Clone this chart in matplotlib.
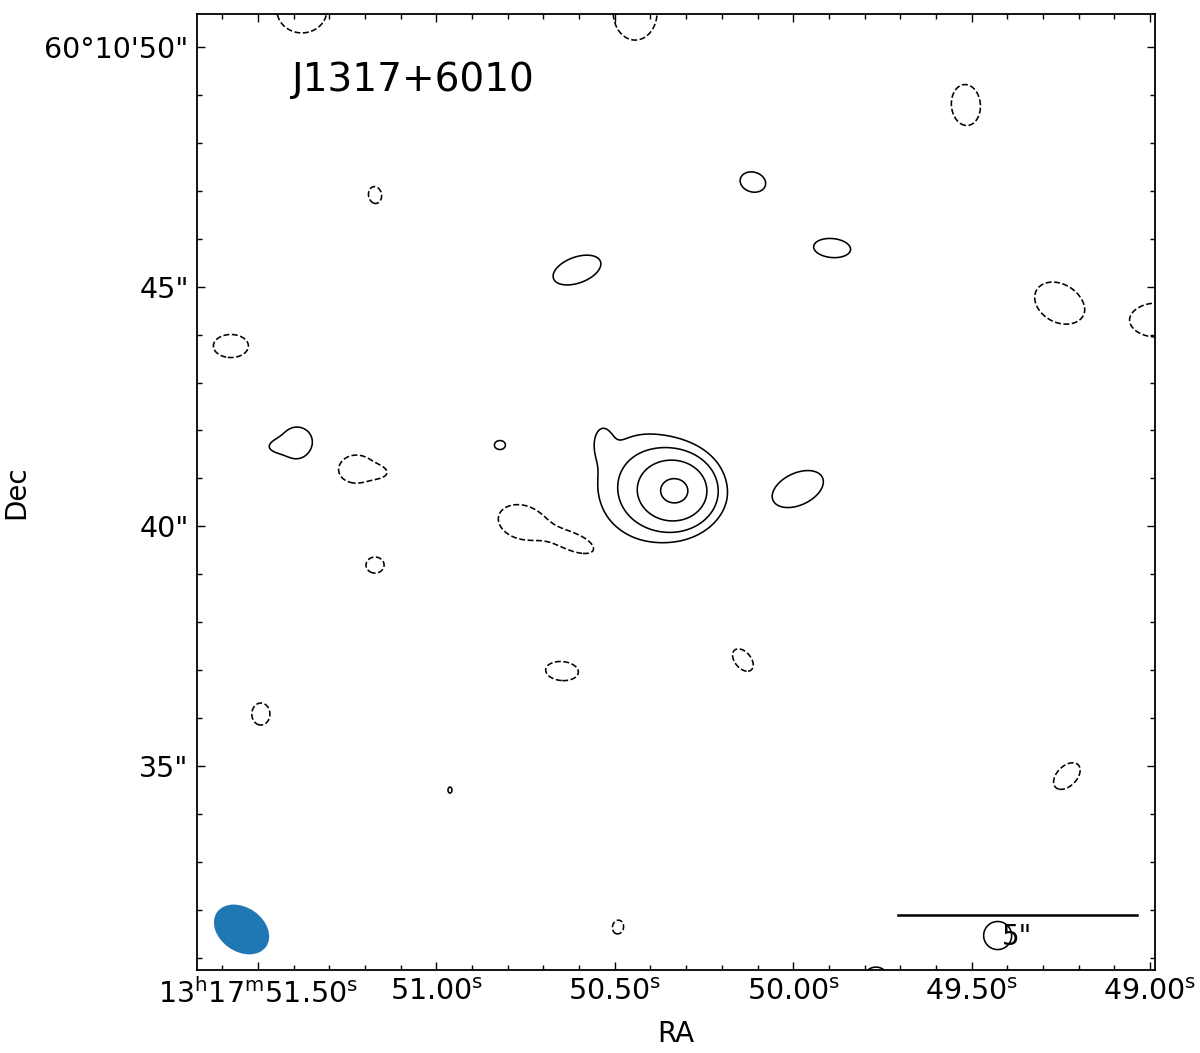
import numpy as np
import matplotlib
matplotlib.use("Agg")
import matplotlib.pyplot as plt
from matplotlib.patches import Ellipse

# ---------------- data ----------------
source_name = "J1317+6010"
dec0_deg = 60.18  # approx. declination for RA scaling

# Gaussian components of the map: RA seconds (13h17m..s), Dec arcsec (60d10'..")
comp_ra = [50.3257, 50.4294, 50.5359,
           50.606, 50.113, 49.891, 49.987, 51.3907, 51.444, 50.822, 50.962, 49.427, 49.768,
           51.377, 50.443, 49.516, 51.172, 51.576, 51.2253, 51.1637, 49.255, 48.983,
           50.760, 50.598, 51.172, 50.648, 50.141, 51.492, 49.233, 50.491]
comp_dec = [40.736, 40.862, 41.80,
            45.347, 47.183, 45.806, 40.778, 41.738, 41.675, 41.696, 34.498, 31.463, 30.534,
            50.772, 50.730, 48.790, 46.912, 43.762, 41.195, 41.133, 44.659, 44.304,
            40.090, 39.631, 39.192, 36.981, 37.210, 36.084, 34.790, 31.640]
comp_amp = [24.0, 6.0, 2.5,
            4.5, 4.5, 4.5, 4.5, 4.5, 2.5, 4.5, 4.5, 4.5, 4.5,
            -4.5, -4.5, -4.5, -4.5, -4.5, -4.5, -2.5, -4.5, -4.5,
            -4.5, -4.5, -4.5, -4.5, -4.5, -4.5, -4.5, -4.5]
comp_sx = [0.501, 0.731, 0.167,
           0.58, 0.30, 0.43, 0.63, 0.37, 0.21, 0.128, 0.07, 0.325, 0.30,
           0.58, 0.51, 0.475, 0.197, 0.406, 0.42, 0.21, 0.60, 0.58,
           0.56, 0.46, 0.21, 0.38, 0.30, 0.255, 0.37, 0.16]
comp_sy = [0.459, 0.835, 0.292,
           0.30, 0.23, 0.22, 0.37, 0.37, 0.104, 0.104, 0.046, 0.325, 0.30,
           0.53, 0.65, 0.336, 0.151, 0.267, 0.325, 0.104, 0.44, 0.39,
           0.39, 0.21, 0.186, 0.22, 0.186, 0.21, 0.23, 0.128]
comp_pa = [0, 0, 0,
           20, -15, -5, 25, 0, 5, 0, 90, 0, 0,
           0, 0, 95, 100, 0, 0, -5, -30, 0,
           -15, -20, 0, -5, -50, 90, 45, 80]

contour_levels = [-3, 3, 6, 12, 24]

ra_ticks = [51.5, 51.0, 50.5, 50.0, 49.5, 49.0]
ra_ticklabels = [r"$13^{\rm h}17^{\rm m}51.50^{\rm s}$", r"$51.00^{\rm s}$",
                 r"$50.50^{\rm s}$", r"$50.00^{\rm s}$", r"$49.50^{\rm s}$",
                 r"$49.00^{\rm s}$"]
dec_ticks = [50, 45, 40, 35]
dec_ticklabels = ["60\u00b010'50\"", '45"', '40"', '35"']

scalebar_arcsec = 5.0
scalebar_label = '5"'

# ---------------- figure ----------------
plt.rcParams['font.family'] = ['DejaVu Sans']
plt.rcParams['mathtext.fontset'] = 'dejavusans'
plt.rcParams['mathtext.default'] = 'regular'

fig = plt.figure(figsize=(12, 10.53), dpi=100)
ax = fig.add_axes([197 / 1200, 1 - 970 / 1053, 958 / 1200, 956 / 1053])

ra_lo, ra_hi = 48.986, 51.671
dec_lo, dec_hi = 30.744, 50.689
ra_scale = 15.0 * np.cos(np.radians(dec0_deg))  # arcsec per RA second

ra_grid = np.linspace(ra_hi + 0.05, ra_lo - 0.05, 1500)
dec_grid = np.linspace(dec_lo - 0.5, dec_hi + 0.5, 1500)
RA, DEC = np.meshgrid(ra_grid, dec_grid)
F = np.zeros_like(RA)
for r0, d0, a, sa, sb, pa in zip(comp_ra, comp_dec, comp_amp, comp_sx, comp_sy, comp_pa):
    X = (r0 - RA) * ra_scale
    Y = DEC - d0
    t = np.radians(pa)
    u = X * np.cos(t) + Y * np.sin(t)
    v = -X * np.sin(t) + Y * np.cos(t)
    F += a * np.exp(-(u ** 2 / (2 * sa ** 2) + v ** 2 / (2 * sb ** 2)))

ax.contour(RA, DEC, F, levels=contour_levels, colors='k', linewidths=1.15)

ax.set_xticks(ra_ticks)
ax.set_xticklabels(ra_ticklabels)
ax.set_xticks([49.0 + 0.1 * i for i in range(27)], minor=True)
ax.set_yticks(dec_ticks)
ax.set_yticklabels(dec_ticklabels)
ax.set_yticks(list(range(31, 51)), minor=True)
ax.tick_params(which='both', direction='in', top=True, right=True, labelsize=20.5)
ax.tick_params(which='major', length=6, width=1.0, pad=6)
ax.tick_params(which='minor', length=3.5, width=1.0)
for s in ax.spines.values():
    s.set_linewidth(1.3)

ax.set_xlabel("RA", fontsize=20, labelpad=8)
ax.set_ylabel("Dec", fontsize=20, labelpad=10)

ax.text(0.099, 0.931, source_name, transform=ax.transAxes, fontsize=28,
        ha='left', va='center')

# beam
ax.add_patch(Ellipse((0.0465, 0.0424), 60 / 958, 44 / 956, angle=-35,
                     transform=ax.transAxes, facecolor='#1f77b4', edgecolor='none'))

# scale bar
sb_start = 49.707
sb_len = scalebar_arcsec / ra_scale
ax.plot([sb_start, sb_start - sb_len], [31.89, 31.89], color='k', lw=1.8)
ax.text(sb_start - sb_len / 2, 31.43, scalebar_label, fontsize=20,
        ha='center', va='center')

ax.set_xlim(ra_hi, ra_lo)
ax.set_ylim(dec_lo, dec_hi)

fig.savefig("out.png", dpi=100)
